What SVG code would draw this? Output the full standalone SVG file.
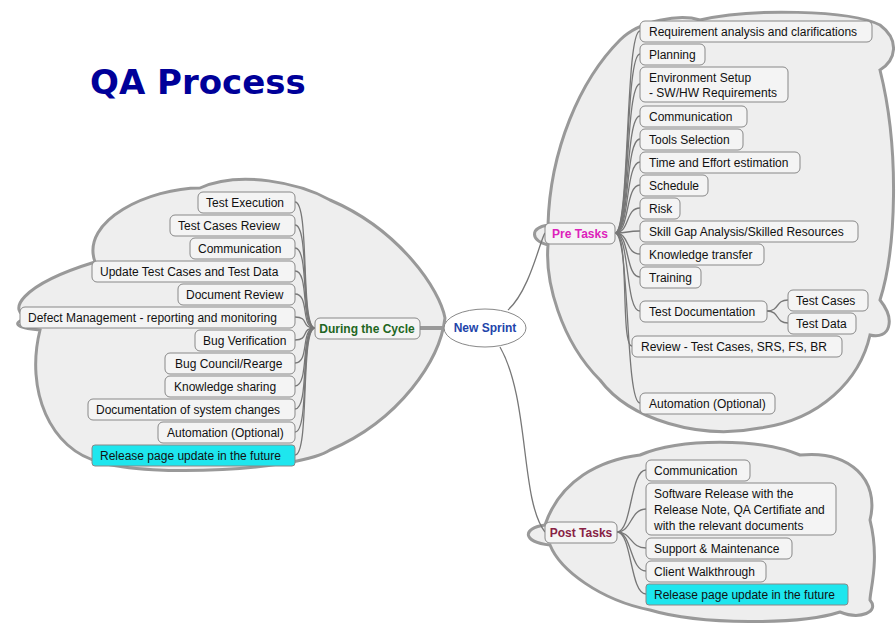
<svg xmlns="http://www.w3.org/2000/svg" width="896" height="626" viewBox="0 0 896 626">
<style>
.cloud{fill:#eeeeee;stroke:#999;stroke-width:3}
.n rect{fill:#f4f4f4;stroke:#888;stroke-width:1}
.c rect{fill:#1ee6ee;stroke:#888}
text{font-family:"Liberation Sans",Arial,sans-serif;font-size:12px;fill:#111}
.b{font-weight:bold}
.cn path{fill:none;stroke:#777;stroke-width:1.3}
</style>
<rect width="896" height="626" fill="#fff"/>
<text x="90" y="94" style="font-family:'DejaVu Sans',Verdana,sans-serif;font-size:34px;font-weight:bold;fill:#000099">QA Process</text>
<path class="cloud" d="M30,318 C5,312 20,285 95,262 C80,220 150,188 200,188 C240,170 300,183 330,200 C400,230 440,290 445,318 C440,360 400,420 330,450 C300,470 150,478 100,462 C50,450 25,390 40,330 C15,328 10,322 30,318 Z"/>
<path class="cloud" d="M548,225 C550,150 580,80 620,40 C640,20 680,14 700,20 C750,8 850,10 880,25 C900,40 896,60 880,70 C900,150 896,250 880,300 C896,320 890,340 870,335 C860,380 820,420 760,428 C700,440 630,420 600,380 C560,340 545,280 548,245 C530,240 530,228 548,225 Z"/>
<path class="cloud" d="M545,525 C560,480 600,460 640,455 C680,438 760,438 800,455 C850,450 880,480 870,520 C880,560 870,590 870,600 C880,612 860,620 840,612 C800,625 700,625 650,610 C600,600 560,570 550,545 C522,542 522,528 545,525 Z"/>
<g class="cn">
<path d="M508,310 C530,290 540,240 545,233"/>
<path d="M500,347 C530,400 520,500 545,532"/>
<path d="M445,328 L420,328" style="stroke-width:4;stroke:#999"/>
<path d="M615,233 C630,233 625,31 640,31"/><path d="M615,233 C630,233 625,54 640,54"/><path d="M615,233 C630,233 625,84 640,84"/><path d="M615,233 C630,233 625,116 640,116"/><path d="M615,233 C630,233 625,139 640,139"/><path d="M615,233 C630,233 625,162 640,162"/><path d="M615,233 C630,233 625,185 640,185"/><path d="M615,233 C630,233 625,208 640,208"/><path d="M615,233 C630,233 625,231 640,231"/><path d="M615,233 C630,233 625,254 640,254"/><path d="M615,233 C630,233 625,277 640,277"/><path d="M615,233 C630,233 625,311 640,311"/><path d="M615,233 C630,233 620,346 632,346"/><path d="M615,233 C630,233 625,403 640,403"/>
<path d="M767,311 C780,311 775,300 788,300"/><path d="M767,311 C780,311 775,323 788,323"/>
<path d="M315,328 C300,328 310,202 295,202"/><path d="M315,328 C300,328 310,225 295,225"/><path d="M315,328 C300,328 310,248 295,248"/><path d="M315,328 C300,328 310,271 295,271"/><path d="M315,328 C300,328 310,294 295,294"/><path d="M315,328 C300,328 310,317 295,317"/><path d="M315,328 C300,328 310,340 295,340"/><path d="M315,328 C300,328 310,363 295,363"/><path d="M315,328 C300,328 310,386 295,386"/><path d="M315,328 C300,328 310,409 295,409"/><path d="M315,328 C300,328 310,432 295,432"/><path d="M315,328 C300,328 310,455 295,455"/>
<path d="M617,532 C632,532 630,470 646,470"/><path d="M617,532 C632,532 630,509 646,509"/><path d="M617,532 C632,532 630,548 646,548"/><path d="M617,532 C632,532 630,571 646,571"/><path d="M617,532 C632,532 630,594 646,594"/>
</g>
<g id="new-sprint"><ellipse cx="485" cy="328" rx="41" ry="19" fill="#fff" stroke="#888"/><text x="485" y="332" text-anchor="middle" class="b" style="fill:#2244aa">New Sprint</text></g>
<g id="pre-tasks" class="n"><rect x="545" y="223" width="70" height="21" rx="5"/><text x="580" y="238" text-anchor="middle" class="b" style="fill:#dd22bb">Pre Tasks</text></g>
<g id="post-tasks" class="n"><rect x="545" y="522" width="72" height="21" rx="5"/><text x="581" y="537" text-anchor="middle" class="b" style="fill:#882244">Post Tasks</text></g>
<g id="during" class="n"><rect x="315" y="318" width="105" height="21" rx="5"/><text x="367" y="333" text-anchor="middle" class="b" style="fill:#226622">During the Cycle</text></g>
<g id="p1" class="n"><rect x="640" y="21" width="232" height="21" rx="5"/><text x="649" y="36">Requirement analysis and clarifications</text></g>
<g id="p2" class="n"><rect x="640" y="44" width="65" height="21" rx="5"/><text x="649" y="59">Planning</text></g>
<g id="p3" class="n"><rect x="640" y="67" width="148" height="35" rx="5"/><text x="649" y="82">Environment Setup</text><text x="649" y="97">- SW/HW Requirements</text></g>
<g id="p4" class="n"><rect x="640" y="106" width="107" height="21" rx="5"/><text x="649" y="121">Communication</text></g>
<g id="p5" class="n"><rect x="640" y="129" width="103" height="21" rx="5"/><text x="649" y="144">Tools Selection</text></g>
<g id="p6" class="n"><rect x="640" y="152" width="160" height="21" rx="5"/><text x="649" y="167">Time and Effort estimation</text></g>
<g id="p7" class="n"><rect x="640" y="175" width="68" height="21" rx="5"/><text x="649" y="190">Schedule</text></g>
<g id="p8" class="n"><rect x="640" y="198" width="40" height="21" rx="5"/><text x="649" y="213">Risk</text></g>
<g id="p9" class="n"><rect x="640" y="221" width="218" height="21" rx="5"/><text x="649" y="236">Skill Gap Analysis/Skilled Resources</text></g>
<g id="p10" class="n"><rect x="640" y="244" width="124" height="21" rx="5"/><text x="649" y="259">Knowledge transfer</text></g>
<g id="p11" class="n"><rect x="640" y="267" width="61" height="21" rx="5"/><text x="649" y="282">Training</text></g>
<g id="p12" class="n"><rect x="640" y="301" width="127" height="21" rx="5"/><text x="649" y="316">Test Documentation</text></g>
<g id="p12a" class="n"><rect x="788" y="290" width="80" height="21" rx="5"/><text x="796" y="305">Test Cases</text></g>
<g id="p12b" class="n"><rect x="788" y="313" width="68" height="21" rx="5"/><text x="796" y="328">Test Data</text></g>
<g id="p13" class="n"><rect x="632" y="336" width="210" height="21" rx="5"/><text x="641" y="351">Review - Test Cases, SRS, FS, BR</text></g>
<g id="p14" class="n"><rect x="640" y="393" width="135" height="21" rx="5"/><text x="649" y="408">Automation (Optional)</text></g>
<g id="d1" class="n"><rect x="198" y="192" width="97" height="21" rx="5"/><text x="206" y="207">Test Execution</text></g>
<g id="d2" class="n"><rect x="170" y="215" width="125" height="21" rx="5"/><text x="178" y="230">Test Cases Review</text></g>
<g id="d3" class="n"><rect x="190" y="238" width="105" height="21" rx="5"/><text x="198" y="253">Communication</text></g>
<g id="d4" class="n"><rect x="92" y="261" width="203" height="21" rx="5"/><text x="100" y="276">Update Test Cases and Test Data</text></g>
<g id="d5" class="n"><rect x="178" y="284" width="117" height="21" rx="5"/><text x="186" y="299">Document Review</text></g>
<g id="d6" class="n"><rect x="20" y="307" width="275" height="21" rx="5"/><text x="28" y="322">Defect Management - reporting and monitoring</text></g>
<g id="d7" class="n"><rect x="195" y="330" width="100" height="21" rx="5"/><text x="203" y="345">Bug Verification</text></g>
<g id="d8" class="n"><rect x="165" y="353" width="130" height="21" rx="5"/><text x="175" y="368">Bug Council/Rearge</text></g>
<g id="d9" class="n"><rect x="165" y="376" width="130" height="21" rx="5"/><text x="174" y="391">Knowledge sharing</text></g>
<g id="d10" class="n"><rect x="88" y="399" width="207" height="21" rx="5"/><text x="96" y="414">Documentation of system changes</text></g>
<g id="d11" class="n"><rect x="158" y="422" width="137" height="21" rx="5"/><text x="167" y="437">Automation (Optional)</text></g>
<g id="d12" class="c"><rect x="92" y="445" width="203" height="21" rx="3"/><text x="100" y="460">Release page update in the future</text></g>
<g id="q1" class="n"><rect x="646" y="460" width="104" height="21" rx="5"/><text x="654" y="475">Communication</text></g>
<g id="q2" class="n"><rect x="646" y="483" width="190" height="52" rx="5"/><text x="654" y="498">Software Release with the</text><text x="654" y="514">Release Note, QA Certifiate and</text><text x="654" y="530">with the relevant documents</text></g>
<g id="q3" class="n"><rect x="646" y="538" width="146" height="21" rx="5"/><text x="654" y="553">Support &amp; Maintenance</text></g>
<g id="q4" class="n"><rect x="646" y="561" width="120" height="21" rx="5"/><text x="654" y="576">Client Walkthrough</text></g>
<g id="q5" class="c"><rect x="646" y="584" width="202" height="21" rx="3"/><text x="654" y="599">Release page update in the future</text></g>
</svg>
